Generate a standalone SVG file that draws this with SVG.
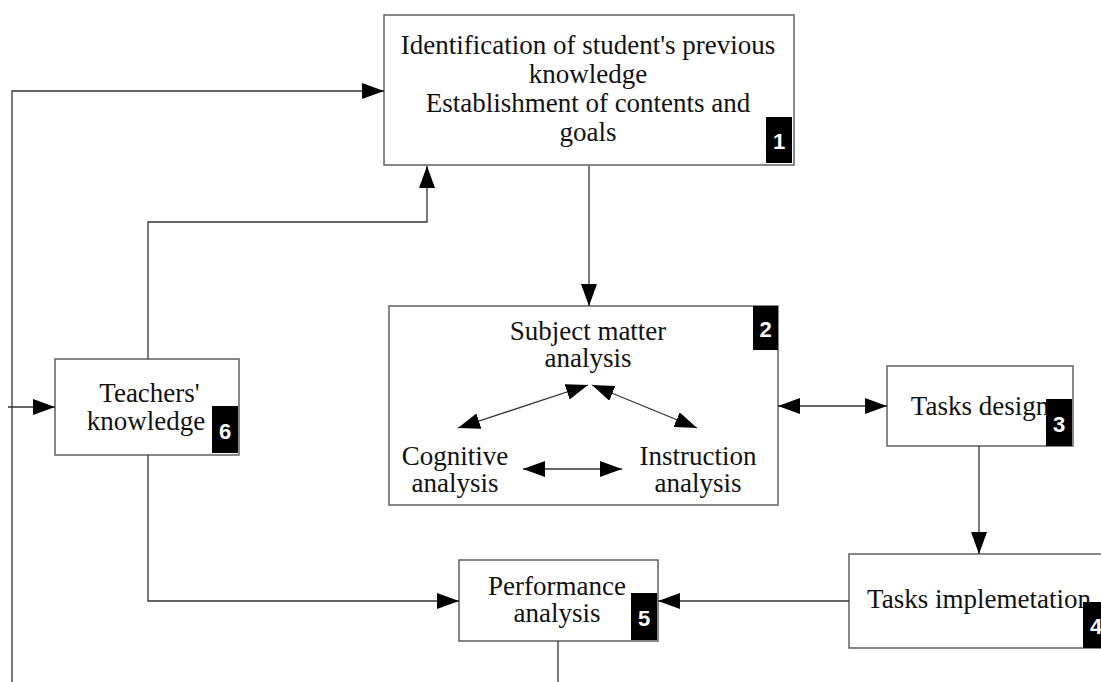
<svg xmlns="http://www.w3.org/2000/svg" width="1101" height="682" viewBox="0 0 1101 682">
<style>
.box{fill:#fff;stroke:#555;stroke-width:1.4}
.lbl{font-family:"Liberation Serif","Times New Roman",serif;font-size:27px;fill:#111;text-anchor:middle}
.badge{fill:#000}
.num{font-family:"Liberation Sans",Arial,sans-serif;font-weight:bold;font-size:22px;fill:#fff;text-anchor:middle}
.con{fill:none;stroke:#333;stroke-width:1.3}
</style>
<defs>
<marker id="ah" markerUnits="userSpaceOnUse" markerWidth="22" markerHeight="16" viewBox="0 0 22 16" refX="22" refY="8" orient="auto-start-reverse">
<path d="M0,0 L22,8 L0,16 z" fill="#000"/>
</marker>
</defs>
<rect width="1101" height="682" fill="#fff"/>
<g id="node1">
<rect class="box" x="384" y="15" width="410" height="150"/>
<text class="lbl" x="588" y="54">Identification of student's previous</text>
<text class="lbl" x="588" y="82.5">knowledge</text>
<text class="lbl" x="588" y="112">Establishment of contents and</text>
<text class="lbl" x="588" y="140.5">goals</text>
<rect class="badge" x="766" y="117" width="26" height="46"/>
<text class="num" x="779" y="149">1</text>
</g>
<g id="node2">
<rect class="box" x="389" y="306" width="389" height="199"/>
<text class="lbl" x="588" y="340">Subject matter</text>
<text class="lbl" x="588" y="367">analysis</text>
<text class="lbl" x="455" y="465">Cognitive</text>
<text class="lbl" x="455" y="492">analysis</text>
<text class="lbl" x="698" y="465">Instruction</text>
<text class="lbl" x="698" y="492">analysis</text>
<rect class="badge" x="753" y="306" width="25" height="44"/>
<text class="num" x="765.5" y="337">2</text>
</g>
<g id="node3">
<rect class="box" x="887" y="366" width="186" height="80"/>
<text class="lbl" x="980" y="415">Tasks design</text>
<rect class="badge" x="1046" y="399" width="26" height="47"/>
<text class="num" x="1059" y="432">3</text>
</g>
<g id="node4">
<rect class="box" x="849" y="554" width="261" height="94"/>
<text class="lbl" x="979" y="608">Tasks implemetation</text>
<rect class="badge" x="1083" y="602" width="26" height="46"/>
<text class="num" x="1096" y="634">4</text>
</g>
<g id="node5">
<rect class="box" x="459" y="560" width="199" height="81"/>
<text class="lbl" x="557" y="595">Performance</text>
<text class="lbl" x="557" y="622">analysis</text>
<rect class="badge" x="631" y="593" width="26" height="47"/>
<text class="num" x="644" y="626">5</text>
</g>
<g id="node6">
<rect class="box" x="55" y="359" width="184" height="96"/>
<text class="lbl" x="149.5" y="402">Teachers'</text>
<text class="lbl" x="146" y="430">knowledge</text>
<rect class="badge" x="212" y="406" width="26" height="47"/>
<text class="num" x="225" y="439">6</text>
</g>
<g id="connectors">
<path class="con" d="M589,166 L589,306" marker-end="url(#ah)"/>
<path class="con" d="M148,359 L148,222 L427,222 L427,166" marker-end="url(#ah)"/>
<path class="con" d="M12,682 L12,91 L384,91" marker-end="url(#ah)"/>
<path class="con" d="M8,407 L55,407" marker-end="url(#ah)"/>
<path class="con" d="M778,406 L887,406" marker-start="url(#ah)" marker-end="url(#ah)"/>
<path class="con" d="M979,446 L979,554" marker-end="url(#ah)"/>
<path class="con" d="M849,601 L658,601" marker-end="url(#ah)"/>
<path class="con" d="M148,455 L148,601 L459,601" marker-end="url(#ah)"/>
<path class="con" d="M558,641 L558,682"/>
<path class="con" d="M458,428 L588,385" marker-start="url(#ah)" marker-end="url(#ah)"/>
<path class="con" d="M592,385 L697,428" marker-start="url(#ah)" marker-end="url(#ah)"/>
<path class="con" d="M523,469 L622,469" marker-start="url(#ah)" marker-end="url(#ah)"/>
</g>
</svg>
